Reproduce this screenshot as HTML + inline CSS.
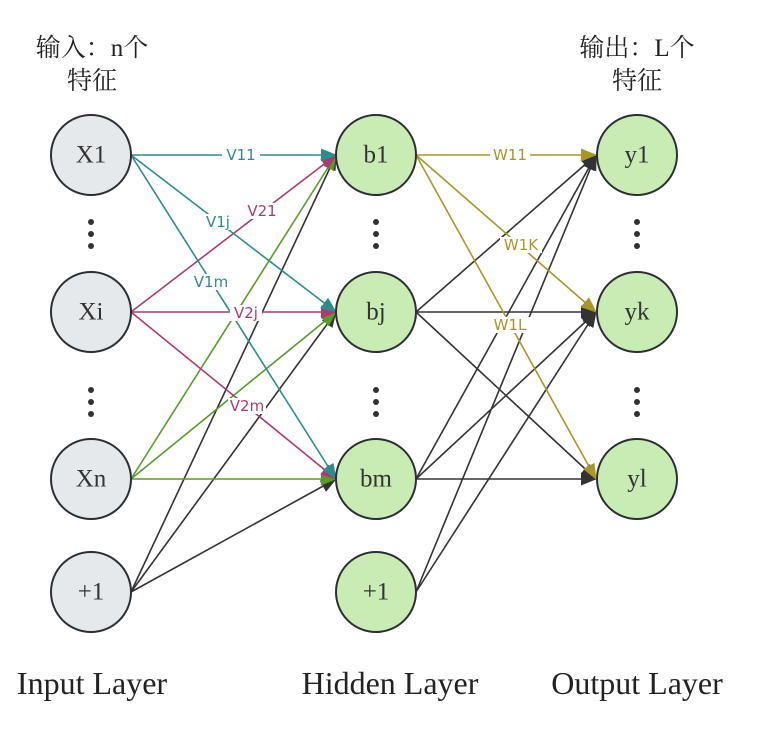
<!DOCTYPE html>
<html><head><meta charset="utf-8"><style>
body{margin:0;background:#fff;width:771px;height:726px;overflow:hidden}
svg text{font-family:"Liberation Serif","Noto Serif CJK SC",serif}
svg .lb text{font-family:"DejaVu Sans","Liberation Sans",sans-serif;font-size:15px}
</style></head><body>
<svg width="771" height="726" viewBox="0 0 771 726" xmlns="http://www.w3.org/2000/svg">
<defs>
<marker id="aT" markerWidth="16" markerHeight="13" refX="15" refY="6.5" orient="auto" markerUnits="userSpaceOnUse" viewBox="0 0 16 13"><path d="M0,0 L16,6.5 L0,13z" fill="#2e8b8b"/></marker>
<marker id="aM" markerWidth="16" markerHeight="13" refX="15" refY="6.5" orient="auto" markerUnits="userSpaceOnUse" viewBox="0 0 16 13"><path d="M0,0 L16,6.5 L0,13z" fill="#a83c72"/></marker>
<marker id="aG" markerWidth="16" markerHeight="13" refX="15" refY="6.5" orient="auto" markerUnits="userSpaceOnUse" viewBox="0 0 16 13"><path d="M0,0 L16,6.5 L0,13z" fill="#5a9a2a"/></marker>
<marker id="aK" markerWidth="16" markerHeight="13" refX="15" refY="6.5" orient="auto" markerUnits="userSpaceOnUse" viewBox="0 0 16 13"><path d="M0,0 L16,6.5 L0,13z" fill="#333"/></marker>
<marker id="aO" markerWidth="16" markerHeight="13" refX="15" refY="6.5" orient="auto" markerUnits="userSpaceOnUse" viewBox="0 0 16 13"><path d="M0,0 L16,6.5 L0,13z" fill="#a8962a"/></marker>
</defs>
<g fill="none" stroke-width="1.6">
<g stroke="#333" marker-end="url(#aK)">
<line x1="131" y1="592" x2="336" y2="155"/><line x1="131" y1="592" x2="336" y2="312"/><line x1="131" y1="592" x2="336" y2="479"/>
<line x1="416" y1="312" x2="596" y2="155"/><line x1="416" y1="312" x2="596" y2="312"/><line x1="416" y1="312" x2="596" y2="479"/>
<line x1="416" y1="479" x2="596" y2="155"/><line x1="416" y1="479" x2="596" y2="312"/><line x1="416" y1="479" x2="596" y2="479"/>
<line x1="416" y1="592" x2="596" y2="155"/><line x1="416" y1="592" x2="596" y2="312"/>
</g>
<g stroke="#5a9a2a" marker-end="url(#aG)">
<line x1="131" y1="479" x2="336" y2="155"/><line x1="131" y1="479" x2="336" y2="312"/><line x1="131" y1="479" x2="336" y2="479"/>
</g>
<g stroke="#a83c72" marker-end="url(#aM)">
<line x1="131" y1="312" x2="336" y2="155"/><line x1="131" y1="312" x2="336" y2="312"/><line x1="131" y1="312" x2="336" y2="479"/>
</g>
<g stroke="#2e8b8b" marker-end="url(#aT)">
<line x1="131" y1="155" x2="336" y2="155"/><line x1="131" y1="155" x2="336" y2="312"/><line x1="131" y1="155" x2="336" y2="479"/>
</g>
<g stroke="#a8962a" marker-end="url(#aO)">
<line x1="416" y1="155" x2="596" y2="155"/><line x1="416" y1="155" x2="596" y2="312"/><line x1="416" y1="155" x2="596" y2="479"/>
</g>
</g>
<g class="lb" text-anchor="middle" dominant-baseline="central">
<g fill="#2e8b8b"><rect x="222" y="147" width="38" height="16" fill="#fff"/><text x="241" y="155">V11</text>
<rect x="203" y="214" width="30" height="16" fill="#fff"/><text x="218" y="222">V1j</text>
<rect x="192" y="274" width="38" height="16" fill="#fff"/><text x="211" y="282">V1m</text></g>
<g fill="#a83c72"><rect x="245" y="203" width="34" height="16" fill="#fff"/><text x="262" y="211">V21</text>
<rect x="230" y="305" width="32" height="16" fill="#fff"/><text x="246" y="313">V2j</text>
<rect x="228" y="398" width="38" height="16" fill="#fff"/><text x="247" y="406">V2m</text></g>
<g fill="#a8962a"><rect x="490" y="147" width="40" height="16" fill="#fff"/><text x="510" y="155">W11</text>
<rect x="500" y="237" width="42" height="16" fill="#fff"/><text x="521" y="245">W1K</text>
<rect x="490" y="317" width="40" height="16" fill="#fff"/><text x="510" y="325">W1L</text></g>
</g>
<g stroke="#2b2f33" stroke-width="2">
<g fill="#e6e9ec"><circle cx="91" cy="155" r="40"/><circle cx="91" cy="312" r="40"/><circle cx="91" cy="479" r="40"/><circle cx="91" cy="592" r="40"/></g>
<g fill="#c8ecb4"><circle cx="376" cy="155" r="40"/><circle cx="376" cy="312" r="40"/><circle cx="376" cy="479" r="40"/><circle cx="376" cy="592" r="40"/>
<circle cx="637" cy="155" r="40"/><circle cx="637" cy="312" r="40"/><circle cx="637" cy="479" r="40"/></g>
</g>
<g fill="#333" font-size="25" text-anchor="middle" dominant-baseline="central">
<text x="91" y="155">X1</text><text x="91" y="312">Xi</text><text x="91" y="479">Xn</text><text x="91" y="592">+1</text>
<text x="376" y="155">b1</text><text x="376" y="312">bj</text><text x="376" y="479">bm</text><text x="376" y="592">+1</text>
<text x="637" y="155">y1</text><text x="637" y="312">yk</text><text x="637" y="479">yl</text>
</g>
<g fill="#333">
<circle cx="91" cy="222" r="3"/><circle cx="91" cy="234" r="3"/><circle cx="91" cy="246" r="3"/>
<circle cx="91" cy="390" r="3"/><circle cx="91" cy="402" r="3"/><circle cx="91" cy="414" r="3"/>
<circle cx="376" cy="222" r="3"/><circle cx="376" cy="234" r="3"/><circle cx="376" cy="246" r="3"/>
<circle cx="376" cy="390" r="3"/><circle cx="376" cy="402" r="3"/><circle cx="376" cy="414" r="3"/>
<circle cx="637" cy="222" r="3"/><circle cx="637" cy="234" r="3"/><circle cx="637" cy="246" r="3"/>
<circle cx="637" cy="390" r="3"/><circle cx="637" cy="402" r="3"/><circle cx="637" cy="414" r="3"/>
</g>
<g fill="#222" font-size="25" text-anchor="middle">
<text x="92" y="56">输入：n个</text><text x="92" y="89">特征</text>
<text x="637" y="56">输出：L个</text><text x="637" y="89">特征</text>
</g>
<g fill="#222" font-size="32" text-anchor="middle">
<text x="92" y="694">Input Layer</text><text x="390" y="694">Hidden Layer</text><text x="637" y="694">Output Layer</text>
</g>
</svg>
</body></html>
